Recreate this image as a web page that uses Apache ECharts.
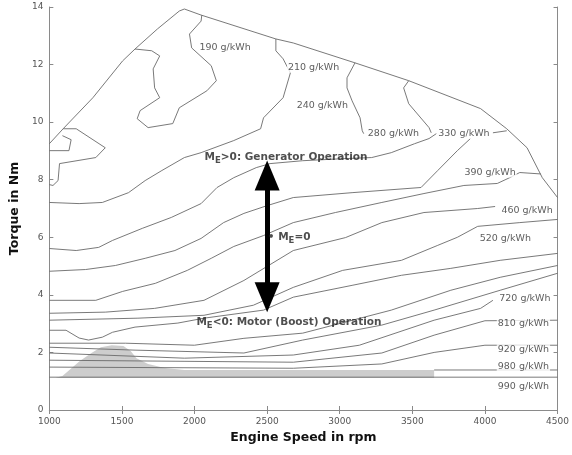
<!DOCTYPE html>
<html><head><meta charset="utf-8">
<script src="https://cdn.jsdelivr.net/npm/echarts@6/dist/echarts.min.js"></script>
<style>html,body{margin:0;padding:0;background:#fff}#c{width:572px;height:455px}</style>
</head><body><div id="c"></div>
<script>
// ---- axis ticks ----
const xTicks = [1000, 1500, 2000, 2500, 3000, 3500, 4000, 4500];
const yTicks = [0, 2, 4, 6, 8, 10, 12, 14];

// ---- contour lines [rpm, torque Nm] ----
const fullLoad = [[1000,9.25],[1095,9.77],[1300,10.85],[1505,12.13],[1590,12.54],[1745,13.24],[1895,13.86],[1930,13.93],[2045,13.72],[2560,12.89],[2680,12.75],[3105,12.06],[3475,11.44],[3970,10.47],[4150,9.77],[4290,9.11],[4395,8.07],[4500,7.38]];
const c190 = [[1590,12.54],[1705,12.48],[1760,12.30],[1715,11.85],[1725,11.19],[1760,10.85],[1625,10.40],[1605,10.12],[1680,9.81],[1850,9.95],[1895,10.50],[2085,11.09],[2150,11.44],[2115,11.96],[1980,12.58],[1965,13.06],[2045,13.51],[2050,13.72]];
const cLeft = [[1095,9.77],[1185,9.77],[1385,9.11],[1320,8.77],[1070,8.56],[1060,7.97],[1025,7.80],[1000,7.83]];
const cLeftInner = [[1000,9.01],[1135,9.01],[1150,9.39],[1090,9.53]];
const c210 = [[2560,12.89],[2560,12.48],[2610,12.20],[2660,11.71],[2610,10.85],[2475,10.15],[2455,9.77],[2270,9.36],[2045,8.94],[1930,8.77],[1775,8.32],[1660,7.97],[1545,7.55],[1365,7.21],[1205,7.17],[1000,7.21]];
const c280a = [[3105,12.06],[3050,11.54],[3050,11.19],[3085,10.74],[3140,10.15],[3155,9.70],[3165,9.60]];
const c280b = [[3630,9.63],[3615,9.81],[3475,10.64],[3440,11.19],[3475,11.44]];
const c330 = [[1000,5.61],[1185,5.54],[1340,5.65],[1435,5.89],[1640,6.31],[1840,6.69],[2045,7.17],[2155,7.73],[2270,8.07],[2425,8.42],[2520,8.56],[2745,8.66],[3020,8.73],[3220,8.77],[3355,8.94],[3515,9.25],[3615,9.43],[3665,9.60]];
const c330b = [[4055,9.63],[4150,9.70]];
const cB = [[1000,4.82],[1250,4.88],[1455,5.02],[1660,5.27],[1865,5.54],[2045,5.96],[2200,6.51],[2340,6.83],[2500,7.10],[2680,7.38],[3085,7.55],[3560,7.73],[3675,8.32],[3810,9.01],[3900,9.43]];
const c390 = [[1000,3.81],[1320,3.81],[1505,4.12],[1730,4.40],[1950,4.85],[2115,5.27],[2270,5.68],[2475,6.06],[2680,6.51],[2970,6.86],[3290,7.21],[3580,7.52],[3855,7.80],[4085,7.87],[4170,8.07],[4240,8.25],[4385,8.20]];
const c460 = [[1000,3.36],[1385,3.40],[1725,3.53],[2065,3.81],[2340,4.50],[2680,5.54],[3040,5.99],[3290,6.51],[3580,6.86],[3950,7.00],[4070,7.07]];
const c520 = [[1000,3.12],[1610,3.19],[2065,3.29],[2405,3.64],[2680,4.26],[3020,4.85],[3425,5.20],[3675,5.72],[3810,6.00],[3950,6.38],[4240,6.51],[4500,6.62]];
const cF = [[1000,2.77],[1115,2.77],[1205,2.50],[1270,2.43],[1365,2.53],[1435,2.70],[1590,2.88],[1885,3.02],[2065,3.19],[2475,3.47],[2680,3.92],[3085,4.33],[3425,4.68],[3765,4.92],[4105,5.20],[4500,5.44]];
const cG = [[1000,2.32],[1525,2.32],[1999,2.25],[2340,2.49],[2745,2.67],[3355,3.47],[3765,4.16],[4105,4.61],[4500,5.02]];
const cH = [[1000,2.18],[1590,2.08],[2340,1.98],[2745,2.43],[3290,2.95],[3650,3.47],[4105,4.16],[4500,4.75]];
const c720 = [[1000,1.98],[1930,1.80],[2680,1.91],[3135,2.25],[3650,3.12],[3970,3.53],[4055,3.81]];
const c810 = [[1000,1.73],[2680,1.66],[3290,1.98],[3650,2.60],[4000,3.10],[4500,3.12]];
const c920 = [[1000,1.49],[2680,1.45],[3290,1.60],[3650,2.00],[4000,2.25],[4500,2.25]];
const c980 = [[3650,1.39],[4500,1.39]];
const c990 = [[1000,1.14],[4500,1.14]];
const grayArea = [[1040,1.11],[1090,1.18],[1140,1.40],[1210,1.70],[1290,1.98],[1355,2.18],[1430,2.25],[1510,2.22],[1560,2.05],[1600,1.80],[1680,1.60],[1795,1.46],[1930,1.39],[3650,1.39],[3650,1.11]];

// ---- contour labels ----
const labelTexts = ['190 g/kWh','210 g/kWh','240 g/kWh','280 g/kWh','330 g/kWh','390 g/kWh','460 g/kWh','520 g/kWh','720 g/kWh','810 g/kWh','920 g/kWh','980 g/kWh','990 g/kWh'];
const labelAt = [[2210,12.58],[2820,11.89],[2880,10.57],[3370,9.60],[3855,9.60],[4035,8.25],[4290,6.93],[4140,5.96],[4275,3.88],[4265,3.01],[4265,2.11],[4265,1.52],[4265,0.83]];

// ---- arrow / annotations ----
const arrowRpm = 2500;
const arrowEnds = [3.92, 8.15];
const annGen = {text: 'Generator Operation', at: [2630, 8.77]};
const annMot = {text: 'Motor (Boost) Operation', at: [2650, 3.05]};
const annZero = {at: [2470, 6.0]};

const contours = [fullLoad,c190,cLeft,cLeftInner,c210,c280a,c280b,c330,c330b,cB,c390,c460,c520,cF,cG,cH,c720,c810,c920,c980,c990];

const FONT = 'DejaVu Sans, Liberation Sans, Arial, sans-serif';
const chart = echarts.init(document.getElementById('c'), null, {renderer:'canvas'});
const lineColor = '#6a6a6a';
const axisCommon = {
  type: 'value', min: 1000, max: 4500, interval: 500,
  axisLine: {show: true, lineStyle: {color: '#8a8a8a', width: 1}},
  axisTick: {show: true, inside: true, length: 4, lineStyle: {color: '#8a8a8a'}},
  splitLine: {show: false}
};
const series = [];
contours.forEach(c => series.push({
  type: 'line', data: c, showSymbol: false, symbol: 'none', silent: true,
  lineStyle: {color: lineColor, width: 0.9}, z: 2
}));
series.push({
  type: 'custom', silent: true, z: 1,
  data: [0],
  renderItem: function (params, api) {
    return {type: 'polygon', shape: {points: grayArea.map(p => api.coord(p))},
      style: {fill: '#cdcdcd', stroke: null}};
  }
});
series.push({
  type: 'scatter', symbolSize: 0, silent: true, z: 5,
  data: labelTexts.map((t, i) => ({value: labelAt[i], name: t})),
  label: {show: true, position: 'inside', formatter: '{b}', fontSize: 9.5,
    fontFamily: FONT, color: '#333',
    backgroundColor: '#fff', padding: [0, 1]}
});
const rich = {
  m: {fontSize: 10.5, fontWeight: 'bold', color: '#222', fontFamily: FONT},
  s: {fontSize: 8.5, fontWeight: 'bold', color: '#222', fontFamily: FONT, padding: [7, 0, 0, 0]}
};
series.push({
  type: 'scatter', symbolSize: 0, silent: true, z: 6,
  data: [
    {value: annGen.at, label: {formatter: '{m|M}{s|E}{m|>0: ' + annGen.text + '}'}},
    {value: annMot.at, label: {formatter: '{m|M}{s|E}{m|<0: ' + annMot.text + '}'}},
    {value: annZero.at, label: {position: 'right', formatter: '{m|• M}{s|E}{m|=0}'}}
  ],
  label: {show: true, position: 'inside', rich: rich, backgroundColor: 'transparent'}
});
series.push({
  type: 'line', data: [], silent: true, z: 7,
  markLine: {
    silent: true, animation: false,
    symbol: ['triangle', 'triangle'], symbolSize: [25, 30],
    lineStyle: {color: '#000', width: 5, type: 'solid'},
    label: {show: false},
    data: [[{coord: [arrowRpm, arrowEnds[0]]}, {coord: [arrowRpm, arrowEnds[1]]}]]
  }
});

chart.setOption({
  animation: false,
  backgroundColor: '#fff',
  grid: {left: 43, right: 14, top: 7, bottom: 45},
  xAxis: [
    Object.assign({}, axisCommon, {position: 'bottom',
      axisLabel: {fontSize: 9, color: '#555', margin: 7, fontFamily: FONT,
        formatter: v => xTicks.includes(v) ? String(v) : ''},
      name: 'Engine Speed in rpm', nameLocation: 'middle', nameGap: 20,
      nameTextStyle: {fontSize: 12.5, fontWeight: 'bold', color: '#111', fontFamily: FONT}}),
    Object.assign({}, axisCommon, {position: 'top', axisLabel: {show: false}})
  ],
  yAxis: [
    Object.assign({}, axisCommon, {min: 0, max: 14, interval: 2, position: 'left',
      axisLabel: {fontSize: 9, color: '#555', margin: 6, fontFamily: FONT,
        formatter: v => yTicks.includes(v) ? String(v) : ''},
      name: 'Torque in Nm', nameLocation: 'middle', nameGap: 21, nameRotate: 90,
      nameTextStyle: {fontSize: 12.5, fontWeight: 'bold', color: '#111', fontFamily: FONT}}),
    Object.assign({}, axisCommon, {min: 0, max: 14, interval: 2, position: 'right', axisLabel: {show: false}})
  ],
  series: series
});
</script>
</body></html>
